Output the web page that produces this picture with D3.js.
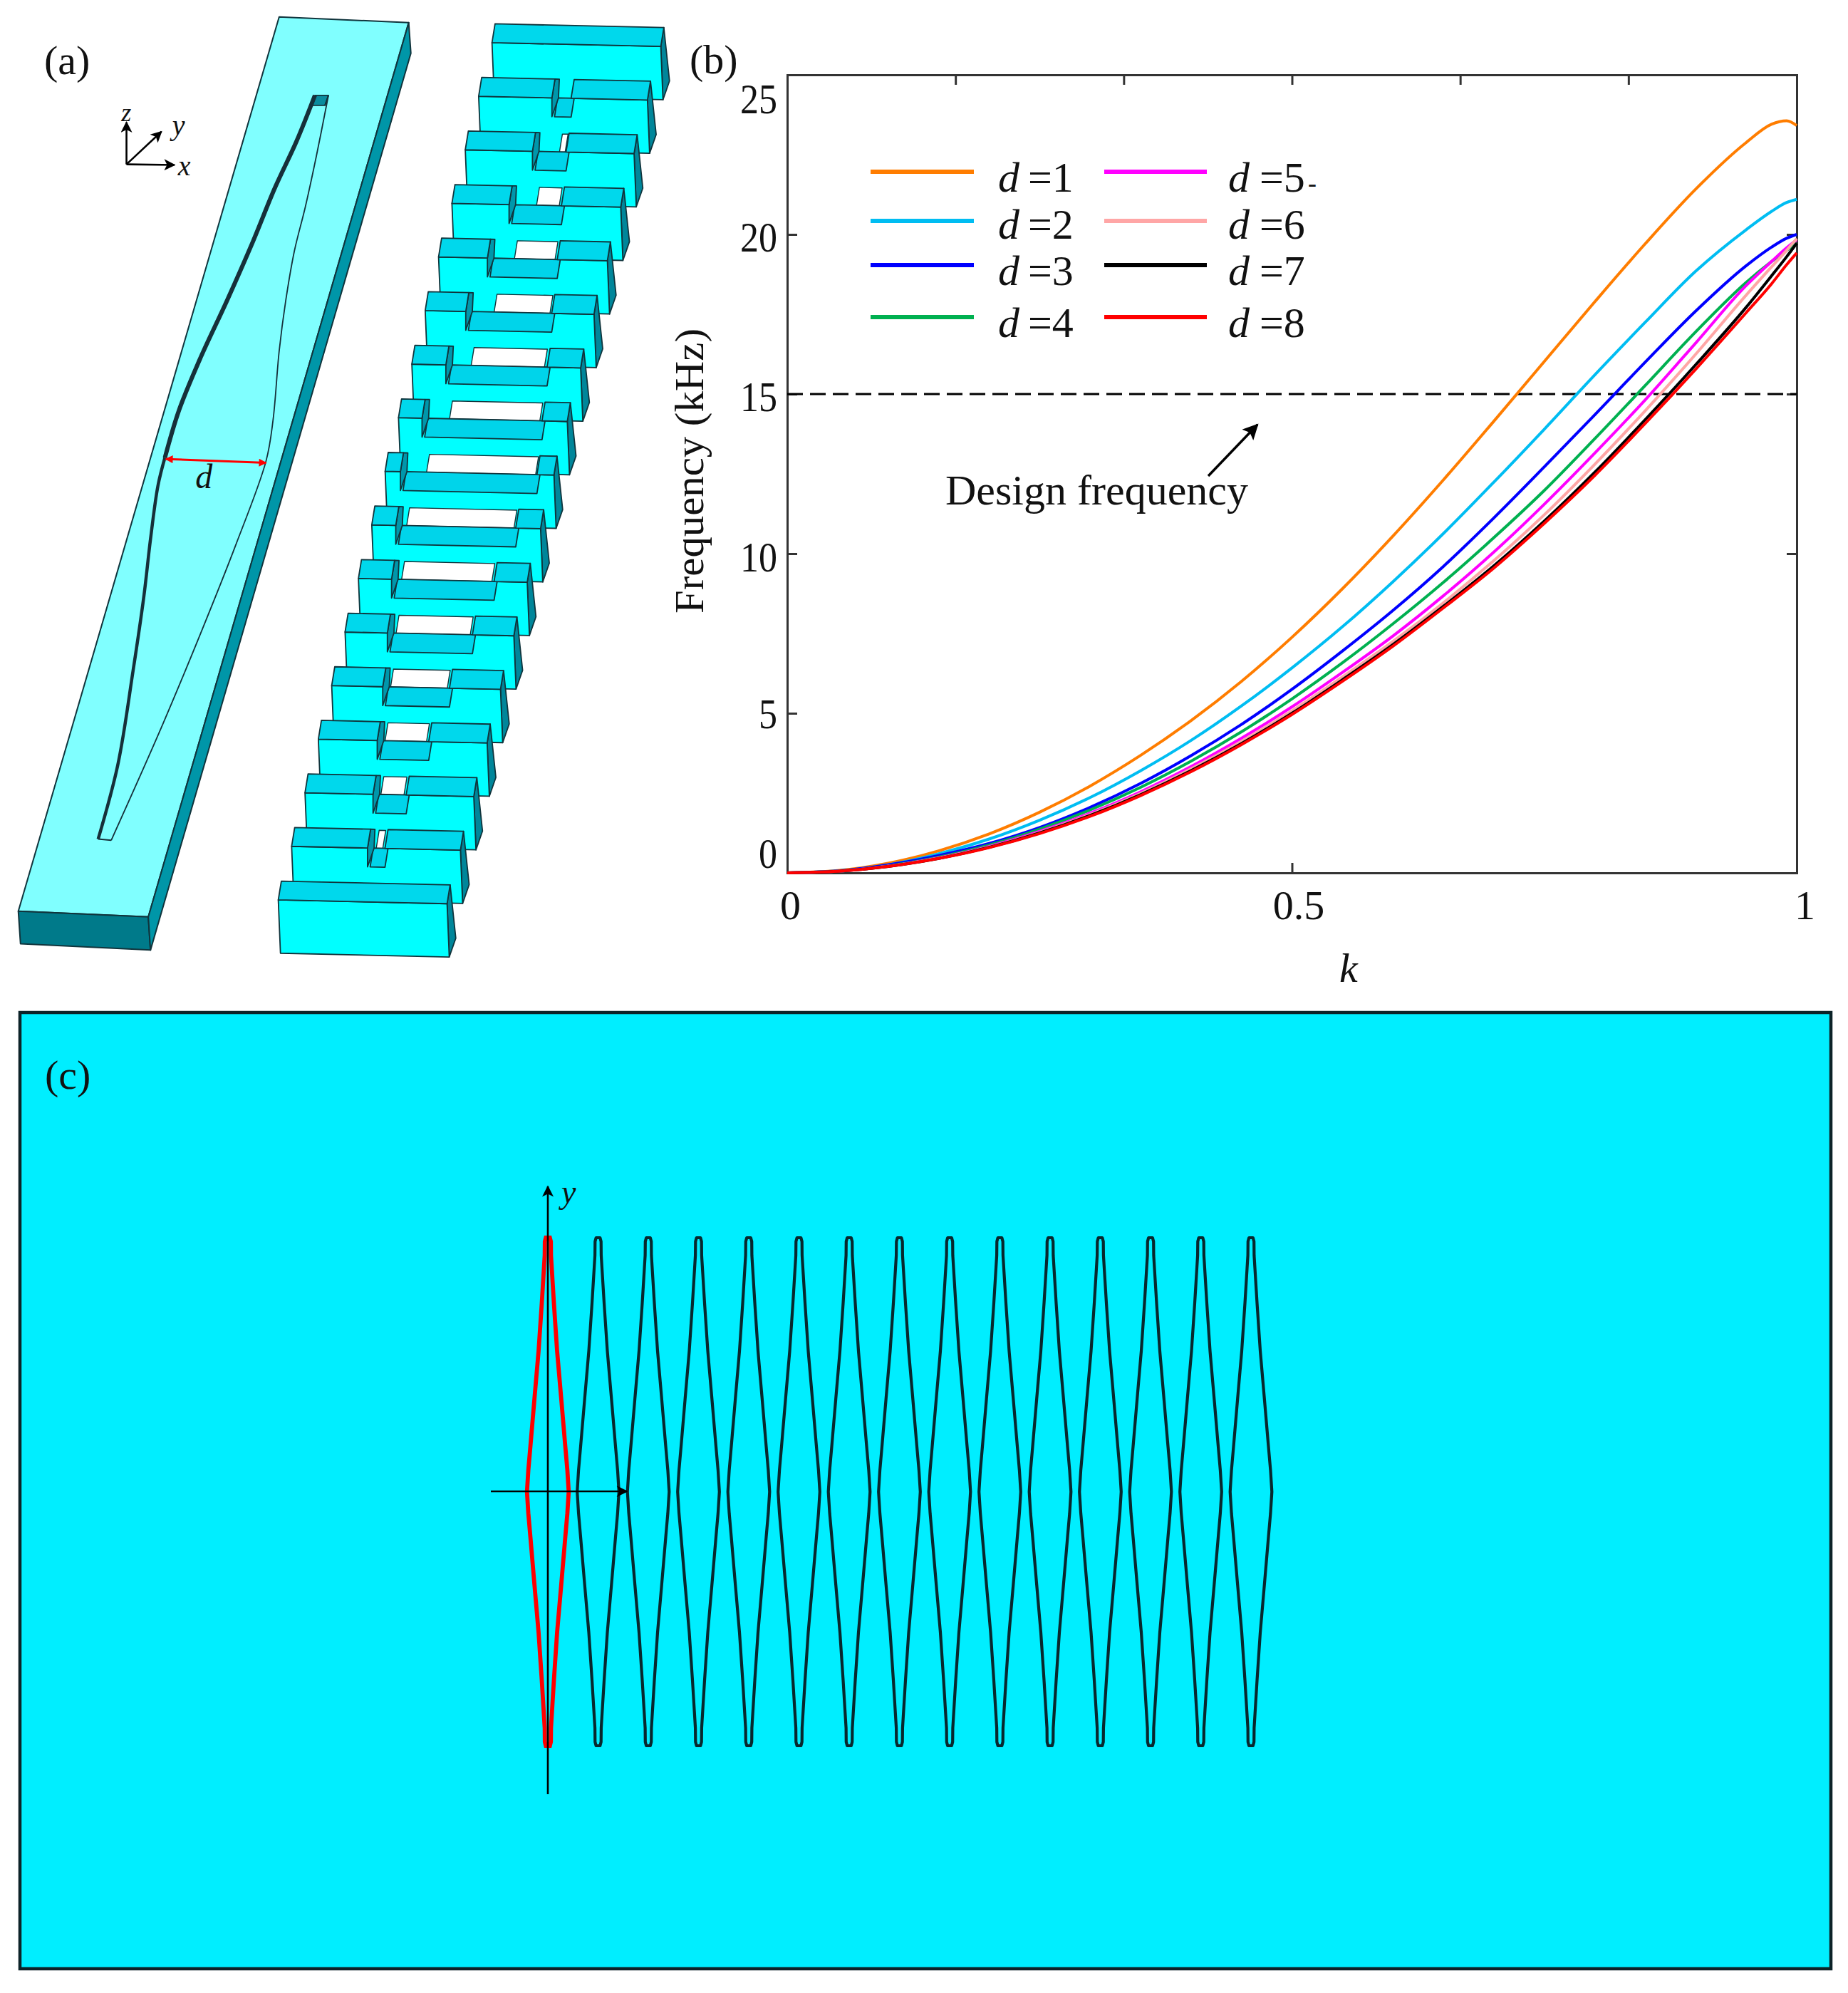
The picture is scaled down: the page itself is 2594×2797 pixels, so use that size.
<!DOCTYPE html>
<html>
<head>
<meta charset="utf-8">
<script src="https://cdnjs.cloudflare.com/ajax/libs/d3/7.8.5/d3.min.js"></script>
<style>
  body { margin: 0; background: #fff; }
  text { font-family: "Liberation Serif", serif; fill: #111; }
</style>
</head>
<body>
<div class="canvas"></div>
<script>
// panel (b) values
const kValues = [0, .05, .1, .15, .2, .25, .3, .35, .4, .45, .5, .55, .6, .65, .7, .75, .8, .85, .9, .95, .975, .99, 1];
const d1 = [0, .07, .3, .69, 1.22, 1.9, 2.72, 3.68, 4.77, 6.0, 7.38, 8.9, 10.55, 12.31, 14.15, 16.02, 17.89, 19.71, 21.42, 22.88, 23.45, 23.56, 23.41];
const d2 = [0, .06, .25, .6, 1.06, 1.65, 2.36, 3.2, 4.15, 5.23, 6.42, 7.71, 9.12, 10.63, 12.24, 13.9, 15.6, 17.25, 18.85, 20.15, 20.72, 21.0, 21.1];
const d3_ = [0, .06, .25, .54, .92, 1.42, 2.05, 2.8, 3.67, 4.65, 5.75, 6.95, 8.22, 9.6, 11.12, 12.72, 14.35, 16.0, 17.6, 19.02, 19.6, 19.88, 20.0];
const d4 = [0, .055, .22, .49, .87, 1.37, 1.97, 2.68, 3.5, 4.42, 5.45, 6.58, 7.8, 9.1, 10.5, 11.98, 13.6, 15.27, 16.95, 18.5, 19.15, 19.5, 19.72];
const d5 = [0, .05, .21, .47, .83, 1.3, 1.87, 2.54, 3.33, 4.22, 5.2, 6.28, 7.42, 8.68, 10.05, 11.55, 13.15, 14.82, 16.6, 18.4, 19.15, 19.58, 19.83];
const d6 = [0, .05, .205, .46, .81, 1.27, 1.83, 2.49, 3.26, 4.12, 5.08, 6.14, 7.25, 8.46, 9.78, 11.22, 12.8, 14.48, 16.25, 18.1, 18.98, 19.5, 19.87];
const d7 = [0, .05, .2, .45, .8, 1.25, 1.8, 2.45, 3.2, 4.05, 5.0, 6.05, 7.15, 8.35, 9.62, 11.02, 12.55, 14.2, 15.92, 17.72, 18.7, 19.3, 19.72];
const d8 = [0, .05, .2, .45, .79, 1.23, 1.77, 2.42, 3.17, 4.02, 4.96, 6.0, 7.1, 8.3, 9.55, 10.95, 12.45, 14.08, 15.78, 17.55, 18.45, 19.05, 19.42];
const seriesValues = [d1, d2, d3_, d4, d5, d6, d7, d8];
const seriesNames = ['1', '2', '3', '4', '5', '6', '7', '8'];
const seriesColours = ['#ff7d00', '#00bdf2', '#0000ff', '#00b050', '#ff00ff', '#ffa6a6', '#000000', '#ff0000'];
const designFrequency = 15;
const yTicks = [0, 5, 10, 15, 20, 25];
const yTickShift = [-26, 2, 6, 5, 5, 35];
const xTicks = [0, .5, 1];
const xTickShift = [4, 9, 11];

// panel (a) slit geometry, in crop coordinates of the schematic
const plateTop = [[640, 27], [937, 36], [340, 1462], [42, 1453]];
const plateFront = [[42, 1453], [340, 1462], [345, 1515], [47, 1505]];
const plateSide = [[937, 36], [942, 85], [345, 1515], [340, 1462]];
const slotLeftUpper = [[722, 152], [680, 225], [630, 300], [580, 385], [520, 480], [460, 570], [410, 655], [378, 730]];
const slotLeftLower = [[378, 730], [362, 775], [345, 860], [330, 950], [305, 1070], [270, 1220], [225, 1338]];
const slotRight = [[753, 152], [725, 250], [700, 330], [675, 400], [655, 480], [640, 560], [626, 670], [610, 735], [540, 870], [460, 1010], [370, 1160], [255, 1340]];
const slotFoot = [[225, 1338], [255, 1340]];
const slotHead = [[722, 152], [753, 152], [745, 168], [714, 168]];

// comb slices: notch and see-through window of each of the 17 blocks
const blockIndex = d3.range(17);
const notchLeft = [0, 168, 154, 131, 112, 93, 78, 54, 35, 55, 76, 97, 117, 135, 156, 174, 0];
const notchRight = [0, 212, 231, 251, 272, 290, 310, 329, 348, 330, 311, 292, 270, 253, 232, 214, 0];
const windowLeft = [0, 0, 216, 194, 174, 158, 136, 117, 95, 80, 99, 117, 135, 153, 174, 194, 0];
const windowRight = [0, 0, 229, 246, 267, 286, 304, 324, 345, 326, 306, 287, 265, 248, 227, 209, 0];

// panel (c) lens outline: half width against distance from the middle
const lensDistance = [0, .085, .178, .366, .554, .742, .93, .985, 1];
const lensHalfWidth = [29.3, 27.4, 24.5, 18.8, 13, 8.5, 4.4, 4.2, 2.8];
const lensIndex = d3.range(15);

const svg = d3.select('.canvas').append('svg')
    .attr('width', 2594)
    .attr('height', 2797)
    .style('display', 'block');

const defs = svg.append('defs');
defs.append('marker').attr('id', 'head')
    .attr('viewBox', '0 0 10 10').attr('refX', 9).attr('refY', 5)
    .attr('markerWidth', 22).attr('markerHeight', 16)
    .attr('markerUnits', 'userSpaceOnUse').attr('orient', 'auto-start-reverse')
  .append('path').attr('d', 'M0,0L10,5L0,10L2.5,5Z').attr('fill', '#000');
defs.append('marker').attr('id', 'headBig')
    .attr('viewBox', '0 0 10 10').attr('refX', 9).attr('refY', 5)
    .attr('markerWidth', 30).attr('markerHeight', 22)
    .attr('markerUnits', 'userSpaceOnUse').attr('orient', 'auto-start-reverse')
  .append('path').attr('d', 'M0,0L10,5L0,10L2,5Z').attr('fill', '#000');
defs.append('marker').attr('id', 'headRed')
    .attr('viewBox', '0 0 10 10').attr('refX', 9).attr('refY', 5)
    .attr('markerWidth', 20).attr('markerHeight', 11)
    .attr('markerUnits', 'userSpaceOnUse').attr('orient', 'auto-start-reverse')
  .append('path').attr('d', 'M0,0L10,5L0,10Z').attr('fill', '#f00');

const addText = (g, str, x, y, size, italic) => g.append('text')
    .attr('x', x).attr('y', y)
    .attr('font-size', size)
    .attr('font-style', italic ? 'italic' : 'normal')
    .text(str);

// ---------- panel (a) ----------
const sx = d3.scaleLinear().domain([0, 1568]).range([0, 960]);
const sy = d3.scaleLinear().domain([0, 1568]).range([0, 1380]);
const schemLine = d3.line().x(d => sx(d[0])).y(d => sy(d[1]));
const schemCurve = d3.line().x(d => sx(d[0])).y(d => sy(d[1])).curve(d3.curveCatmullRom);
const panelA = svg.append('g');

const poly = (pts, fill, sw = 1.8) => panelA.append('path')
    .attr('d', schemLine(pts) + 'Z')
    .attr('fill', fill)
    .attr('stroke', '#10343c')
    .attr('stroke-width', sw)
    .attr('stroke-linejoin', 'round');

poly(plateTop, '#80ffff', 2);
poly(plateFront, '#007a8a', 2);
poly(plateSide, '#0096a8', 2);
poly(slotHead, '#0a8c9e');
const slotPath = (pts, w) => panelA.append('path')
    .attr('d', schemCurve(pts))
    .attr('fill', 'none')
    .attr('stroke', '#16303a')
    .attr('stroke-width', w);
slotPath(slotLeftUpper, 6);
slotPath(slotLeftLower, 4.5);
slotPath(slotRight, 1.8);
panelA.append('path').attr('d', schemLine([[753, 152], [745, 168]])).attr('stroke', '#16303a').attr('stroke-width', 1.6);
panelA.append('path').attr('d', schemLine(slotFoot)).attr('stroke', '#16303a').attr('stroke-width', 2);

// the width d
panelA.append('path').attr('d', schemLine([[380, 732], [610, 738]]))
    .attr('stroke', '#f00').attr('stroke-width', 3).attr('fill', 'none')
    .attr('marker-start', 'url(#headRed)').attr('marker-end', 'url(#headRed)');
addText(panelA, 'd', sx(448), sy(778), 48, true);

// small coordinate triad
[[[290, 262], [290, 195]], [[290, 262], [370, 210]], [[290, 262], [400, 263]]].forEach(seg => {
    panelA.append('path').attr('d', schemLine(seg))
        .attr('stroke', '#000').attr('stroke-width', 2.6).attr('fill', 'none')
        .attr('marker-end', 'url(#head)');
});
addText(panelA, 'z', sx(278), sy(193), 36, true);
addText(panelA, 'y', sx(395), sy(215), 40, true);
addText(panelA, 'x', sx(408), sy(280), 40, true);
addText(panelA, '(a)', 62, 104, 58);

// comb of slices, back to front
const bodyW = 387, topDx = -7, topDy = 30, frontH = 85, frontDx = 5, tilt = 6 / 387, floorDrop = 30;
const blockX = d3.scaleLinear().domain([0, 16]).range([1135, 645]);
const blockY = d3.scaleLinear().domain([0, 16]).range([38, 1405]);

blockIndex.forEach(i => {
    const x0 = blockX(i), y0 = blockY(i);
    const topPt = (u, t) => [x0 + u + topDx * t, y0 + u * tilt + topDy * t];
    const frontPt = (u, h) => [x0 + u + topDx + frontDx * h / frontH, y0 + u * tilt + topDy + h];
    const a = notchLeft[i], b = notchRight[i];

    poly([topPt(bodyW, 0), [topPt(bodyW, 0)[0] + 13, topPt(bodyW, 0)[1] + 85], frontPt(bodyW, frontH), topPt(bodyW, 1)], '#00869a');
    poly([frontPt(0, 0), frontPt(bodyW, 0), frontPt(bodyW, frontH), frontPt(0, frontH)], '#00ffff');

    if (a === b) {
        poly([topPt(0, 0), topPt(bodyW, 0), topPt(bodyW, 1), topPt(0, 1)], '#00d8ec');
        return;
    }
    // what shows through the notch, then its floor
    const floorPt = (u, t) => { const p = topPt(u, t); return [p[0], p[1] + floorDrop]; };
    panelA.append('path')
        .attr('d', schemLine([topPt(a + 6, 0), topPt(b, 0), floorPt(b, 0), floorPt(a + 6, 0)]) + 'Z')
        .attr('fill', '#00ffff');
    if (windowRight[i] > windowLeft[i]) {
        poly([topPt(windowLeft[i], .05), topPt(windowRight[i], .05), topPt(windowRight[i], 1), topPt(windowLeft[i], 1)], '#fff', 1.4);
    }
    poly([floorPt(a + 6, 0), floorPt(b, 0), floorPt(b, 1), floorPt(a + 6, 1)], '#00d4ea');
    poly([topPt(a, 0), topPt(a + 10, 0), floorPt(a + 8, 0), floorPt(a, 1), topPt(a, 1)], '#0097ab');
    poly([topPt(0, 0), topPt(a, 0), topPt(a, 1), topPt(0, 1)], '#00d8ec');
    poly([topPt(b, 0), topPt(bodyW, 0), topPt(bodyW, 1), topPt(b, 1)], '#00d8ec');
});

// ---------- panel (b) ----------
const margin = { left: 1105, right: 2522, top: 105, bottom: 1225 };
const x = d3.scaleLinear().domain([0, 1]).range([margin.left, margin.right]);
const y = d3.scaleLinear().domain([0, 25]).range([margin.bottom, margin.top]);
const panelB = svg.append('g');

const styleAxis = g => {
    g.selectAll('path.domain').attr('stroke', '#333').attr('stroke-width', 3);
    g.selectAll('.tick line').attr('stroke', '#333').attr('stroke-width', 3);
};

const topAxis = panelB.append('g').attr('transform', `translate(0,${margin.top})`)
    .call(d3.axisTop(x).tickValues(d3.range(1, 6).map(i => i / 6)).tickSize(-14).tickFormat(''));
const rightAxis = panelB.append('g').attr('transform', `translate(${margin.right},0)`)
    .call(d3.axisRight(y).tickValues([10, 15, 20]).tickSize(-14).tickFormat(''));
const leftAxis = panelB.append('g').attr('transform', `translate(${margin.left},0)`)
    .call(d3.axisLeft(y).tickValues(yTicks).tickSize(-14).tickPadding(14).tickFormat(d3.format('d')));
const bottomAxis = panelB.append('g').attr('transform', `translate(0,${margin.bottom})`)
    .call(d3.axisBottom(x).tickValues(xTicks).tickSize(-14).tickPadding(24).tickFormat(d => d));
[topAxis, rightAxis, leftAxis, bottomAxis].forEach(styleAxis);

leftAxis.selectAll('.tick text')
    .attr('font-size', 60)
    .attr('font-family', 'Liberation Serif')
    .attr('fill', '#222')
    .attr('dy', (d, i) => yTickShift[i] + 18)
    .attr('textLength', d => String(d).length * 26)
    .attr('lengthAdjust', 'spacingAndGlyphs');
bottomAxis.selectAll('.tick text')
    .attr('font-size', 58)
    .attr('font-family', 'Liberation Serif')
    .attr('fill', '#222')
    .attr('dx', (d, i) => xTickShift[i])
    .attr('dy', '.71em');

panelB.append('line')
    .attr('x1', x(0)).attr('x2', x(1))
    .attr('y1', y(designFrequency)).attr('y2', y(designFrequency))
    .attr('stroke', '#000').attr('stroke-width', 3)
    .attr('stroke-dasharray', '22 10');

const curve = d3.line()
    .x((d, i) => x(kValues[i]))
    .y(d => y(d))
    .curve(d3.curveMonotoneX);

panelB.selectAll('path.curve')
    .data(seriesValues)
    .enter().append('path')
    .attr('class', 'curve')
    .attr('d', curve)
    .attr('fill', 'none')
    .attr('stroke', (d, i) => seriesColours[i])
    .attr('stroke-width', 4);

// legend
const legendRow = [241, 310, 372, 445];
const legendBase = [269, 335, 400, 473];
const legendLineX = [[1222, 1367], [1550, 1694]];
const legendTextX = [[1401, 1443], [1724, 1768]];
seriesNames.forEach((name, i) => {
    const col = i < 4 ? 0 : 1, row = i % 4;
    panelB.append('line')
        .attr('x1', legendLineX[col][0]).attr('x2', legendLineX[col][1])
        .attr('y1', legendRow[row]).attr('y2', legendRow[row])
        .attr('stroke', seriesColours[i]).attr('stroke-width', 6);
    addText(panelB, 'd', legendTextX[col][0], legendBase[row], 60, true);
    addText(panelB, '=' + name, legendTextX[col][1], legendBase[row], 60);
});
addText(panelB, '-', 1836, 269, 36);

addText(panelB, 'Design frequency', 1327, 708, 60)
    .attr('textLength', 425).attr('lengthAdjust', 'spacingAndGlyphs');
panelB.append('line')
    .attr('x1', 1696).attr('y1', 668).attr('x2', 1765).attr('y2', 596)
    .attr('stroke', '#000').attr('stroke-width', 3.5)
    .attr('marker-end', 'url(#headBig)');

panelB.append('text')
    .attr('transform', 'translate(987,661) rotate(-90)')
    .attr('text-anchor', 'middle')
    .attr('font-size', 58)
    .attr('textLength', 400).attr('lengthAdjust', 'spacingAndGlyphs')
    .text('Frequency (kHz)');
addText(panelB, 'k', 1880, 1378, 58, true);
addText(panelB, '(b)', 968, 103, 58);

// ---------- panel (c) ----------
const panelC = svg.append('g');
panelC.append('rect')
    .attr('x', 28).attr('y', 1421).attr('width', 2542).attr('height', 1342)
    .attr('fill', '#00eeff')
    .attr('stroke', '#0c2328').attr('stroke-width', 4.5);
addText(panelC, '(c)', 63, 1528, 58);

const lensX = d3.scaleLinear().domain([0, 14]).range([769, 1756]);
const lensY = d3.scaleLinear().domain([-1, 1]).range([1737, 2450]);
const lensPoints = () => {
    const upper = lensDistance.map((t, i) => [lensHalfWidth[i], -t]);
    const right = upper.slice().reverse().concat(lensDistance.slice(1).map((t, i) => [lensHalfWidth[i + 1], t]));
    const left = right.slice().reverse().map(p => [-p[0], p[1]]);
    return right.concat(left);
};
lensIndex.forEach(i => {
    const line = d3.line().x(p => lensX(i) + p[0]).y(p => lensY(p[1]));
    panelC.append('path')
        .attr('d', line(lensPoints()) + 'Z')
        .attr('fill', 'none')
        .attr('stroke', i === 0 ? '#ff0000' : '#08282e')
        .attr('stroke-width', i === 0 ? 5.8 : 4.2)
        .attr('stroke-linejoin', i === 0 ? 'miter' : 'round');
});
panelC.append('line')
    .attr('x1', 769).attr('y1', 2518).attr('x2', 769).attr('y2', 1665)
    .attr('stroke', '#000').attr('stroke-width', 2.6)
    .attr('marker-end', 'url(#head)');
panelC.append('line')
    .attr('x1', 689).attr('y1', 2093).attr('x2', 880).attr('y2', 2093)
    .attr('stroke', '#000').attr('stroke-width', 2.6)
    .attr('marker-end', 'url(#head)');
addText(panelC, 'y', 788, 1688, 46, true);
</script>
</body>
</html>
